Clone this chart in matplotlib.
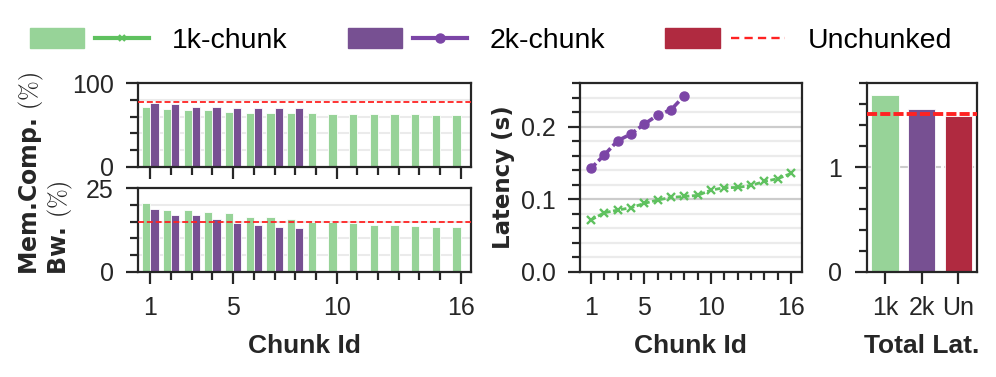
import numpy as np
import matplotlib.pyplot as plt
from matplotlib.lines import Line2D
from matplotlib.patches import Patch
from matplotlib.legend_handler import HandlerTuple
from matplotlib.ticker import MultipleLocator, FixedLocator

plt.rcParams['font.family'] = ['Liberation Sans', 'DejaVu Sans']
plt.rcParams['mathtext.fontset'] = 'cm'

# Data
chunks_1k = np.arange(1, 17)
chunks_2k = np.arange(1, 9)
comp_1k = [71.6, 69.2, 68.0, 67.6, 65.6, 64.4, 64.4, 64.4, 64.0, 63.6, 63.2, 63.2, 62.8, 62.8, 62.4, 62.0]
comp_2k = [76.8, 74.8, 72.0, 71.6, 70.4, 70.4, 70.4, 70.0]
comp_un = 77.2
bw_1k = [20.6, 18.4, 18.5, 17.9, 17.7, 16.4, 16.5, 15.8, 15.0, 14.8, 14.7, 14.1, 13.9, 13.6, 13.3, 13.3]
bw_2k = [18.9, 16.9, 16.9, 15.7, 14.7, 14.1, 13.4, 13.2]
bw_un = 14.9
lat_1k = [0.0713, 0.0814, 0.085, 0.0883, 0.0943, 0.0989, 0.1025, 0.1039,
          0.1053, 0.1126, 0.1159, 0.1163, 0.119, 0.1246, 0.1283, 0.1356]
lat_2k = [0.1425, 0.161, 0.1807, 0.190, 0.2037, 0.216, 0.2234, 0.2428]
total_labels = ['1k', '2k', 'Un']
total_lat = [1.69, 1.556, 1.489]
total_un = 1.505
legend_labels = ['1k-chunk', '2k-chunk', 'Unchunked']

# Colors
green_bar = '#97d398'
purple_bar = '#775092'
red_bar = '#b02a40'
green_line = '#5fc15f'
purple_line = '#7b45a6'
red_line = '#ff2222'
dark = '#262626'

fig = plt.figure(figsize=(9.96, 3.77), dpi=100)
ax_c = fig.add_axes([0.1386, 0.5578, 0.3343, 0.2212])
ax_b = fig.add_axes([0.1386, 0.2793, 0.3343, 0.2212])
ax_l = fig.add_axes([0.5823, 0.2793, 0.2226, 0.4997])
ax_t = fig.add_axes([0.8702, 0.2793, 0.1104, 0.4997])

xlab = dict(fontsize=19, fontweight='bold', color=dark, labelpad=10)
ylab = dict(fontweight='bold', color=dark, family='DejaVu Sans')


def style(ax):
    for s in ax.spines.values():
        s.set_linewidth(1.6)
        s.set_color(dark)
    ax.tick_params(which='both', direction='out', width=1.6, color=dark,
                   labelsize=18, pad=9, labelcolor=dark)
    ax.tick_params(which='major', length=8.5)
    ax.tick_params(which='minor', length=5.5)
    ax.set_axisbelow(True)


# Memory compression / bandwidth bars
for ax, v1, v2, vu, top in [(ax_c, comp_1k, comp_2k, comp_un, 100),
                            (ax_b, bw_1k, bw_2k, bw_un, 25)]:
    style(ax)
    ax.bar(chunks_1k - 0.2, v1, width=0.4, color=green_bar, edgecolor='white', linewidth=0.6)
    ax.bar(chunks_2k + 0.2, v2, width=0.4, color=purple_bar, edgecolor='white', linewidth=0.6)
    ax.axhline(vu, color=red_line, lw=1.3, dashes=(3.3, 1.6), zorder=5)
    ax.set_ylim(0, top)
    ax.set_xlim(0.4, 16.5)
    ax.yaxis.set_major_locator(FixedLocator([0, top]))
    ax.yaxis.set_minor_locator(MultipleLocator(top / 5))
    ax.xaxis.set_major_locator(FixedLocator([1, 5, 10, 16]))
    ax.xaxis.set_minor_locator(MultipleLocator(1))
    ax.grid(which='minor', axis='y', color='#ebebeb', lw=1.5)

ax_c.tick_params(axis='x', labelbottom=False)
ax_b.set_xlabel('Chunk Id', **xlab)
fig.text(37 / 996, 1 - 275 / 377, 'Mem.Comp. $(\\%)$', rotation=90, fontsize=17,
         rotation_mode='anchor', ha='left', va='baseline', **ylab)
fig.text(66 / 996, 1 - 275 / 377, 'Bw. $(\\%)$', rotation=90, fontsize=17,
         rotation_mode='anchor', ha='left', va='baseline', **ylab)

# Latency per chunk
style(ax_l)
ax_l.plot(chunks_2k, lat_2k, color=purple_line, lw=2.6, dashes=(2.0, 0.9),
          marker='o', ms=6.5, zorder=3)
ax_l.plot(chunks_1k, lat_1k, color=green_line, lw=2.0, dashes=(2.0, 0.9),
          marker='x', ms=5.5, mew=1.7, zorder=3)
ax_l.set_xlim(0.18, 16.8)
ax_l.set_ylim(0, 0.26)
ax_l.xaxis.set_major_locator(FixedLocator([1, 5, 10, 16]))
ax_l.xaxis.set_minor_locator(MultipleLocator(1))
ax_l.yaxis.set_major_locator(MultipleLocator(0.1))
ax_l.yaxis.set_minor_locator(MultipleLocator(0.02))
ax_l.grid(which='major', axis='y', color='#cccccc', lw=1.6)
ax_l.grid(which='minor', axis='y', color='#ebebeb', lw=1.6)
ax_l.set_xlabel('Chunk Id', **xlab)
ax_l.set_ylabel('Latency (s)', labelpad=4, fontsize=16.5, **ylab)

# Total latency
style(ax_t)
ax_t.bar(range(len(total_labels)), total_lat, width=0.75,
         color=[green_bar, purple_bar, red_bar], edgecolor='white', linewidth=0.6)
ax_t.axhline(total_un, color=red_line, lw=2.8, dashes=(2.6, 0.8), zorder=5)
ax_t.set_xlim(-0.5, 2.5)
ax_t.set_ylim(0, 1.8)
ax_t.set_xticks(range(len(total_labels)))
ax_t.set_xticklabels(total_labels)
ax_t.yaxis.set_major_locator(FixedLocator([0, 1]))
ax_t.yaxis.set_minor_locator(MultipleLocator(0.2))
ax_t.grid(which='major', axis='y', color='#cccccc', lw=1.5, ls='--')
ax_t.set_xlabel('Total Lat.', **xlab)

# Legend
handles = [
    (Patch(color=green_bar), Line2D([], [], color=green_line, lw=3, marker='x', ms=5, mew=1.6)),
    (Patch(color=purple_bar), Line2D([], [], color=purple_line, lw=3, marker='o', ms=6.5)),
    (Patch(color=red_bar), Line2D([], [], color=red_line, lw=1.7, dashes=(3.5, 2.2))),
]
fig.legend(handles, legend_labels, loc='center', bbox_to_anchor=(0.493, 0.891),
           ncol=3, frameon=False, fontsize=20.5,
           handler_map={tuple: HandlerTuple(ndivide=None, pad=0.4)},
           handlelength=4.2, handletextpad=0.8, columnspacing=2.1)

fig.savefig('out.png', dpi=100)
